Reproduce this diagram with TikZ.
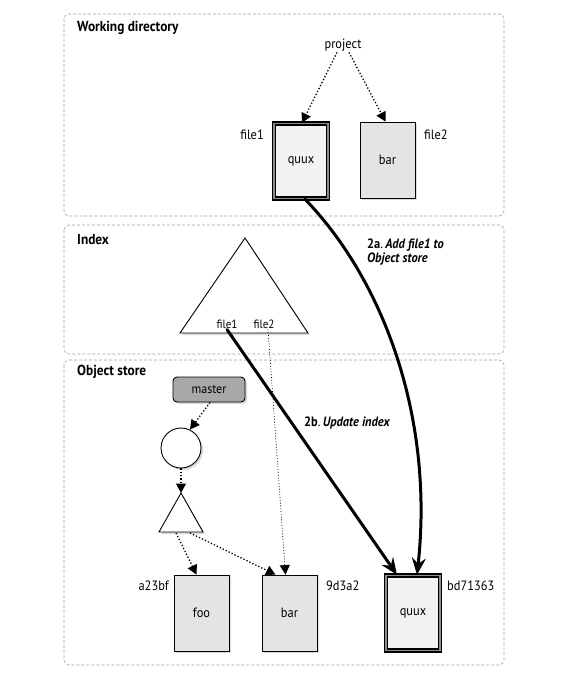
\documentclass[tikz,border=0pt]{standalone}
\usepackage{fontspec}
\setmainfont{PT Sans}[FakeStretch=0.92]
\usetikzlibrary{arrows.meta,shadows}

\definecolor{blobfill}{HTML}{E4E4E4}
\definecolor{hotfill}{HTML}{F2F2F2}
\definecolor{hotring}{HTML}{8C8C8C}
\definecolor{reffill}{HTML}{A8A8A8}
\definecolor{panelline}{HTML}{A0A0A0}

\tikzset{
  panel/.style={draw=panelline, line width=0.6pt, dash pattern=on 3pt off 2pt, rounded corners=5pt},
  paneltitle/.style={font=\bfseries\fontsize{14.5}{16}\selectfont, anchor=west, inner sep=0pt},
  lbl/.style={font=\fontsize{13.5}{15}\selectfont, inner sep=1pt},
  shade/.style={drop shadow={opacity=0.3, shadow xshift=2pt, shadow yshift=-2pt}},
  blob/.style={draw, line width=0.8pt, fill=blobfill, minimum width=55pt, minimum height=76pt,
    inner sep=0pt, font=\fontsize{13.5}{15}\selectfont, shade},
  hotblob/.style={blob, fill=hotfill, line width=1.3pt, double=hotring, double distance=1.6pt,
    minimum width=54pt, minimum height=75pt},
  refbox/.style={draw, line width=0.9pt, fill=reffill, rounded corners=4pt, minimum width=72pt,
    minimum height=25pt, inner sep=0pt, font=\fontsize{13}{15}\selectfont, shade},
  treecirc/.style={draw, circle, line width=0.9pt, fill=white, minimum size=40pt, inner sep=0pt, shade},
  ptr/.style={dotted, line width=1.3pt, -{Triangle[length=9.5pt,width=10pt]}},
  thinptr/.style={dotted, line width=0.8pt, -{Triangle[length=9.5pt,width=10pt]}},
  stepline/.style={line width=3pt, line cap=round, -{Stealth[length=17pt,width=14pt,inset=6pt]}},
  steptext/.style={font=\fontsize{13.5}{15}\selectfont, anchor=west, inner sep=0pt, align=left}
}

\begin{document}
\begin{tikzpicture}[x=1pt,y=-1pt]
  \useasboundingbox (0,0) rectangle (578,678);

  % three areas
  \draw[panel] (64,14) rectangle (504,216);
  \draw[panel] (64,225) rectangle (504,354);
  \draw[panel] (64,360) rectangle (504,665);
  \node[paneltitle] (twd) at (77,28) {Working directory};
  \node[paneltitle] (tidx) at (77,240) {Index};
  \node[paneltitle] (tobj) at (77,372) {Object store};

  % working directory
  \node[lbl] (project) at (343,45) {project};
  \node[hotblob] (wq) at (301,161) {quux};
  \node[blob] (wbar) at (387.5,160) {bar};
  \node[lbl, anchor=east] (wf1) at (265,135) {file1};
  \node[lbl, anchor=west] (wf2) at (423,135) {file2};
  \draw[ptr] ([xshift=-6pt]project.south) -- ([xshift=1pt]wq.north);
  \draw[ptr] ([xshift=6pt]project.south) -- ([xshift=-2pt]wbar.north);

  % index tree
  \coordinate (ia) at (245,238);
  \coordinate (il) at (180,333);
  \coordinate (ir) at (308,333);
  \filldraw[fill=white, line width=0.9pt, line join=miter, shade] (ia) -- (il) -- (ir) -- cycle;
  \node[lbl, font=\fontsize{12}{13}\selectfont] (if1) at (227,324) {file1};
  \node[lbl, font=\fontsize{12}{13}\selectfont] (if2) at (264,324) {file2};

  % object store
  \node[refbox] (master) at (209,389.5) {master};
  \node[treecirc] (commit) at (181,448) {};
  \coordinate (ta) at (181,493);
  \coordinate (tl) at (159,532);
  \coordinate (tr) at (203,532);
  \filldraw[fill=white, line width=0.9pt, shade] (ta) -- (tl) -- (tr) -- cycle;
  \coordinate (tfoo) at (176,533);
  \coordinate (tbar) at (190,533);

  \node[blob] (foo) at (201.5,613) {foo};
  \node[blob] (obar) at (289.5,613) {bar};
  \node[hotblob] (oq) at (413,613) {quux};
  \node[lbl, anchor=east] (hfoo) at (170,586) {a23bf};
  \node[lbl, anchor=west] (hbar) at (325,586) {9d3a2};
  \node[lbl, anchor=west] (hq) at (446,586) {bd71363};

  \draw[ptr] ([xshift=1pt]master.south) -- ([shift={(9pt,-2pt)}]commit.north);
  \draw[ptr] (commit.south) -- (ta);
  \draw[ptr] (tfoo) -- ([xshift=-5pt]foo.north);
  \draw[ptr] (tbar) -- ([xshift=-14pt]obar.north);
  \draw[thinptr] ([xshift=4pt]if2.south) -- ([xshift=-4pt]obar.north);

  % steps
  \draw[stepline] ([xshift=4pt]wq.south) .. controls (385,282) and (434,420) .. ([xshift=4pt]oq.north);
  \draw[stepline] (if1.south) -- ([xshift=-16pt]oq.north);
  \node[steptext] (s2a) at (367,252) {\textbf{2a}.\,\textbf{\itshape Add file1 to}\\[-1pt]\textbf{\itshape Object store}};
  \node[steptext] (s2b) at (304,423) {\textbf{2b}.\,\textbf{\itshape Update index}};
\end{tikzpicture}
\end{document}
